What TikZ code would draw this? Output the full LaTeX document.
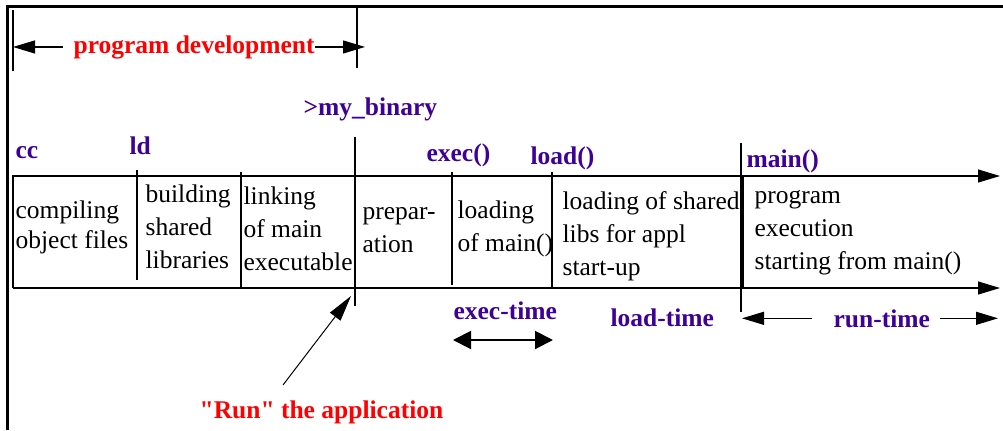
\documentclass[tikz,border=0pt]{standalone}
\usepackage{fontspec}
\setmainfont{Liberation Serif}
\usepackage{xcolor}
\usetikzlibrary{positioning,arrows.meta}

\definecolor{callblue}{RGB}{62,0,150}
\definecolor{notered}{RGB}{255,0,0}
\newcommand\straightquote{\XeTeXglyph\XeTeXglyphindex "quotedbl" \relax}

\begin{document}
\begin{tikzpicture}[x=0.5pt, y=-0.5pt, line width=0.6pt,
    phase/.style={anchor=base west, align=left, inner sep=0pt, font=\fontsize{12.75}{16.5}\selectfont},
    call/.style={anchor=base west, inner sep=0pt, text=callblue, font=\fontsize{12.75}{15}\selectfont\bfseries},
    note/.style={anchor=base west, inner sep=0pt, text=notered, font=\fontsize{12.75}{15}\selectfont\bfseries},
    span/.style={-{Triangle[length=11pt, width=6.5pt]}},
    both/.style={{Triangle[length=9pt, width=9pt]}-{Triangle[length=9pt, width=9pt]}, line width=1pt}]
    \useasboundingbox (0,0) rectangle (1003,430);

    % Rahmen
    \draw[line width=1.5pt] (7.5,430) -- (7.5,6) -- (1003,6);

    % Programmentwicklung
    \coordinate (devStart) at (13,0);
    \coordinate (devEnd) at (365,0);
    \draw (13,10) -- (13,71);
    \draw (357,8) -- (357,68);
    \node[note] (progDev) at (73,53) {program development};
    \draw[span, shorten <=5pt] (progDev.west) -- (progDev.west -| devStart);
    \draw[span] (progDev.east) -- (progDev.east -| devEnd);

    % Zeitleiste
    \coordinate (boxNW) at (13,176);
    \coordinate (boxSW) at (13,288);
    \coordinate (topEnd) at (1000,176);
    \coordinate (botEnd) at (1000,288);
    \draw[span] (boxSW) -- (boxNW) -- (topEnd);
    \draw[span] (boxSW) -- (botEnd);
    \draw (743,176) -- (743,288);
    \foreach \xx/\ya/\yb in {137/170/280, 241/172/288, 355/137/306,
                             452/172/285, 552/172/288, 741/143/312} {
        \draw (\xx,\ya) -- (\xx,\yb);
    }

    % Aufrufe
    \node[call] (myBinary) at (303,115) {>my\_binary};
    \node[call] (cc) at (15,158) {cc};
    \node[call] (ld) at (129,154) {ld};
    \node[call] (exec) at (426,161) {exec()};
    \node[call] (load) at (530,164) {load()};
    \node[call] (main) at (746,167) {main()};

    % Phasen (Grundlinie der letzten Zeile)
    \node[phase, font=\fontsize{12.75}{15}\selectfont] (compiling) at (15,248) {compiling\\object files};
    \node[phase] (building) at (145,268) {building\\shared\\libraries};
    \node[phase] (linking) at (243,270) {linking\\of main\\executable};
    \node[phase] (preparation) at (362,252) {prepar-\\ation};
    \node[phase] (loadMain) at (457,251) {loading\\of main()};
    \node[phase] (loadLibs) at (562,275) {loading of shared\\libs for appl\\start-up};
    \node[phase] (execution) at (754,269) {program\\execution\\starting from main()};

    % Zeiten
    \node[call] (execTime) at (453,319) {exec-time};
    \coordinate (execFrom) at (453,340);
    \coordinate (execTo) at (553,340);
    \draw[both] (execFrom) -- (execTo);
    \node[call] (loadTime) at (610,326) {load-time};
    \node[call] (runTime) at (833,327) {run-time};
    \coordinate (runStart) at (742,0);
    \coordinate (runEnd) at (998,0);
    \draw[span, shorten <=10.5pt] (runTime.west) -- (runTime.west -| runStart);
    \draw[span, shorten <=4.5pt] (runTime.east) -- (runTime.east -| runEnd);

    % Start der Anwendung
    \node[note] (runApp) at (199,418) {\straightquote Run\straightquote{} the application};
    \coordinate (runFoot) at (283,385);
    \coordinate (runTip) at (351,296);
    \draw[-{Triangle[length=13pt, width=6.5pt]}, line width=0.5pt] (runFoot) -- (runTip);
\end{tikzpicture}
\end{document}
